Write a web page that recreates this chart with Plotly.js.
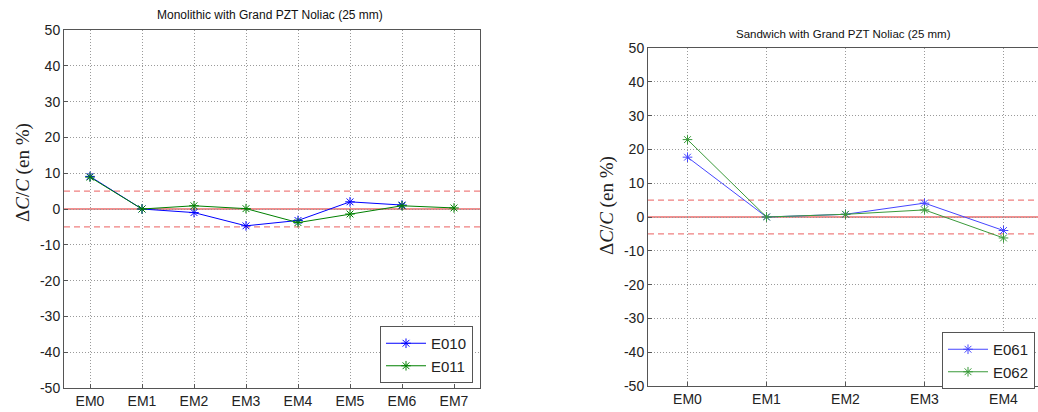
<!DOCTYPE html>
<html>
<head>
<meta charset="utf-8">
<script src="https://cdn.plot.ly/plotly-3.0.1.min.js"></script>
<style>
html,body{margin:0;padding:0;overflow:hidden;background:#fff;}
#chart{width:1050px;height:412px;}
</style>
</head>
<body>
<div id="chart"></div>
<script>
// ---- data ----
const leftCategories = ['EM0','EM1','EM2','EM3','EM4','EM5','EM6','EM7'];
const e010 = [9.1, 0, -1.0, -4.7, -3.2, 2.0, 1.1];
const e011 = [8.9, 0, 0.9, 0.1, -3.8, -1.4, 0.9, 0.3];
const rightCategories = ['EM0','EM1','EM2','EM3','EM4'];
const e061 = [17.7, 0, 0.8, 4.1, -4.0];
const e062 = [22.9, 0, 0.8, 2.1, -6.2];
const yTicks = [-50,-40,-30,-20,-10,0,10,20,30,40,50];
const yTickLabels = ['-50','-40','-30','-20','-10','0','10','20','30','40','50'];
const thresholds = [5, -5];

const W = 1050, H = 412;
const idx = a => a.map((_, i) => i);

const mk = (x, y, name, color, xa, ya, legend) => ({
  x: x, y: y, name: name, type: 'scatter', mode: 'lines+markers',
  xaxis: xa, yaxis: ya, legend: legend,
  line: {color: color, width: 1},
  marker: {symbol: 'asterisk-open', size: 8, color: color, line: {color: color, width: 1}}
});

const traces = [
  mk(idx(e010), e010, 'E010', '#0000ff', 'x', 'y', 'legend'),
  mk(idx(e011), e011, 'E011', '#008000', 'x', 'y', 'legend'),
  mk(idx(e061), e061, 'E061', '#4646ff', 'x2', 'y2', 'legend2'),
  mk(idx(e062), e062, 'E062', '#3a9a3a', 'x2', 'y2', 'legend2')
];

const tickFont = {family: 'Liberation Sans, Arial, sans-serif', size: 14, color: '#222'};
const xAxisBase = (cats, dom, anchor) => ({
  domain: dom, anchor: anchor,
  range: [-0.5, cats.length - 0.5],
  tickmode: 'array', tickvals: idx(cats), ticktext: cats,
  showgrid: true, gridcolor: '#9a9a9a', griddash: '1px,2px', gridwidth: 1,
  showline: true, linecolor: '#555', linewidth: 1, mirror: true,
  ticks: 'inside', ticklen: 4, tickcolor: '#555',
  zeroline: false, tickfont: tickFont, fixedrange: true
});
const yAxisBase = (dom, anchor) => ({
  domain: dom, anchor: anchor,
  range: [-50, 50], tickmode: 'array', tickvals: yTicks, ticktext: yTickLabels,
  showgrid: true, gridcolor: '#9a9a9a', griddash: '1px,2px', gridwidth: 1,
  showline: true, linecolor: '#555', linewidth: 1, mirror: true,
  ticks: 'inside', ticklen: 4, tickcolor: '#555',
  zeroline: false, tickfont: tickFont, fixedrange: true
});

const lxDom = [64 / W, 480 / W];
const rxDom = [648 / W, 1043 / W];
const lyDom = [(H - 388) / H, (H - 30) / H];
const ryDom = [(H - 386) / H, (H - 48) / H];

const shapes = [];
[['x', 'y'], ['x2', 'y2']].forEach(([xa, ya]) => {
  shapes.push({type: 'line', xref: xa + ' domain', yref: ya, x0: 0, x1: 1, y0: 0, y1: 0,
    line: {color: '#e02020', width: 1}, layer: 'below'});
  thresholds.forEach(t => shapes.push({type: 'line', xref: xa + ' domain', yref: ya,
    x0: 0, x1: 1, y0: t, y1: t, line: {color: '#f08080', width: 1.3, dash: '6px,4px'}, layer: 'below'}));
});

const yLabel = 'Δ<i>C</i>/<i>C</i> (en %)';
const serif = {family: 'Liberation Serif, Times New Roman, serif', size: 19, color: '#222'};

const layout = {
  width: W, height: H,
  margin: {l: 0, r: 0, t: 0, b: 0},
  paper_bgcolor: '#fff', plot_bgcolor: '#fff',
  showlegend: true,
  xaxis: xAxisBase(leftCategories, lxDom, 'y'),
  yaxis: yAxisBase(lyDom, 'x'),
  xaxis2: xAxisBase(rightCategories, rxDom, 'y2'),
  yaxis2: yAxisBase(ryDom, 'x2'),
  shapes: shapes,
  legend: {x: 473 / W, y: (H - 383) / H, xanchor: 'right', yanchor: 'bottom',
    bgcolor: '#fff', bordercolor: '#555', borderwidth: 1,
    font: {family: 'Liberation Sans, Arial, sans-serif', size: 15, color: '#222'},
    tracegroupgap: 0, itemwidth: 40},
  legend2: {x: 1035 / W, y: (H - 389) / H, xanchor: 'right', yanchor: 'bottom',
    bgcolor: '#fff', bordercolor: '#555', borderwidth: 1,
    font: {family: 'Liberation Sans, Arial, sans-serif', size: 15, color: '#222'},
    tracegroupgap: 0, itemwidth: 40},
  annotations: [
    {text: 'Monolithic with Grand PZT Noliac (25 mm)', xref: 'paper', yref: 'paper',
      x: 270 / W, y: (H - 15) / H, xanchor: 'center', yanchor: 'middle', showarrow: false,
      font: {family: 'Liberation Sans, Arial, sans-serif', size: 12, color: '#111'}},
    {text: 'Sandwich with Grand PZT Noliac (25 mm)', xref: 'paper', yref: 'paper',
      x: 843 / W, y: (H - 34) / H, xanchor: 'center', yanchor: 'middle', showarrow: false,
      font: {family: 'Liberation Sans, Arial, sans-serif', size: 11.5, color: '#111'}},
    {text: yLabel, xref: 'paper', yref: 'paper', x: 23 / W, y: (H - 173) / H,
      xanchor: 'center', yanchor: 'middle', textangle: -90, showarrow: false, font: serif},
    {text: yLabel, xref: 'paper', yref: 'paper', x: 607 / W, y: (H - 206) / H,
      xanchor: 'center', yanchor: 'middle', textangle: -90, showarrow: false, font: serif}
  ]
};

Plotly.newPlot('chart', traces, layout, {displayModeBar: false, staticPlot: true});
</script>
</body>
</html>
